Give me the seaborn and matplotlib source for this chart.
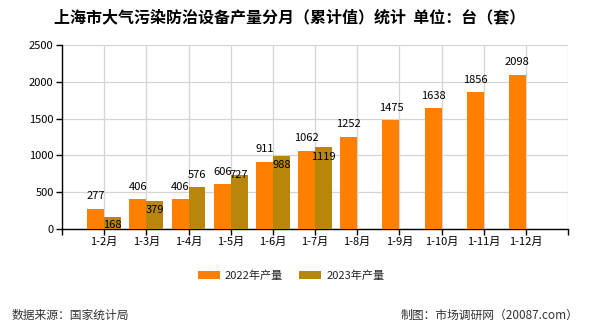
import numpy as np
import pandas as pd
import matplotlib
matplotlib.use("Agg")
import matplotlib.pyplot as plt
import seaborn as sns

months = ["1-2月", "1-3月", "1-4月", "1-5月", "1-6月", "1-7月",
          "1-8月", "1-9月", "1-10月", "1-11月", "1-12月"]
output_2022 = [277, 406, 406, 606, 911, 1062, 1252, 1475, 1638, 1856, 2098]
output_2023 = [168, 379, 576, 727, 988, 1119, None, None, None, None, None]
series_names = ["2022年产量", "2023年产量"]
colors = ["#FF8000", "#B8860B"]
y_ticks = [0, 500, 1000, 1500, 2000, 2500]

title = "上海市大气污染防治设备产量分月（累计值）统计  单位：台（套）"
source = "数据来源：国家统计局"
credit = "制图：市场调研网（20087.com）"

# vertical shift (points) of each 2023 label's centre relative to its bar top
label_shift_2023 = [-6.2, -6.5, 8.3, 0, -6.3, -7.5]

sns.set_theme(style="white")
plt.rcParams["font.family"] = ["Noto Sans CJK SC", "DejaVu Sans"]

df = pd.DataFrame({
    "month": months * 2,
    "value": [np.nan if v is None else v for v in output_2022 + output_2023],
    "series": [series_names[0]] * len(months) + [series_names[1]] * len(months),
})

fig = plt.figure(figsize=(5.9, 3.3), dpi=100)
ax = fig.add_axes([62 / 590, 101 / 330, (568 - 62) / 590, (229 - 45) / 330])

sns.barplot(data=df, x="month", y="value", hue="series", order=months,
            hue_order=series_names, palette=colors, width=0.8, saturation=1,
            ax=ax, legend=True, zorder=3, edgecolor="none", linewidth=0)

# value labels
for i, cont in enumerate(ax.containers):
    vals = output_2022 if i == 0 else output_2023
    for j, (rect, v) in enumerate(zip(cont, vals)):
        if v is None:
            continue
        shift = 9.0 if i == 0 else label_shift_2023[j]
        ax.annotate(str(v), (rect.get_x() + rect.get_width() / 2, rect.get_height()),
                    xytext=(0, shift), textcoords="offset points",
                    ha="center", va="center", fontsize=8, color="black", zorder=5)

ax.set_xlim(-1, len(months))
ax.set_ylim(0, 2500)
ax.set_yticks(y_ticks)
ax.set_yticklabels([str(t) for t in y_ticks], fontsize=8)
ax.set_xticks(range(-1, len(months) + 1))
ax.set_xticklabels([""] + months + [""], fontsize=8)
ax.set_xlabel("")
ax.set_ylabel("")

ax.grid(True, axis="both", color="#d4d4d4", linewidth=0.9, zorder=0)
ax.set_axisbelow(True)
for s in ["top", "right"]:
    ax.spines[s].set_visible(False)
for s in ["left", "bottom"]:
    ax.spines[s].set_color("black")
    ax.spines[s].set_linewidth(1.0)
ax.tick_params(axis="both", which="both", direction="out", length=4, width=1,
               color="black", labelcolor="black", left=True, bottom=True, pad=2)

handles, lbls = ax.get_legend_handles_labels()
ax.legend(handles, lbls, loc="center", frameon=False, ncol=2, fontsize=8,
          handlelength=2.0, handleheight=0.75, handletextpad=0.45, columnspacing=1.4,
          bbox_to_anchor=(291 / 590, 1 - 276 / 330), bbox_transform=fig.transFigure)

fig.text(290 / 590, 1 - 17 / 330, title, ha="center", va="center",
         fontsize=11.5, fontweight="bold", color="black")
fig.text(12 / 590, 1 - 315 / 330, source, ha="left", va="center", fontsize=8.5, color="#333333")
fig.text(578 / 590, 1 - 315 / 330, credit, ha="right", va="center", fontsize=8.5, color="#333333")

fig.savefig("out.png", dpi=100, facecolor="white")
